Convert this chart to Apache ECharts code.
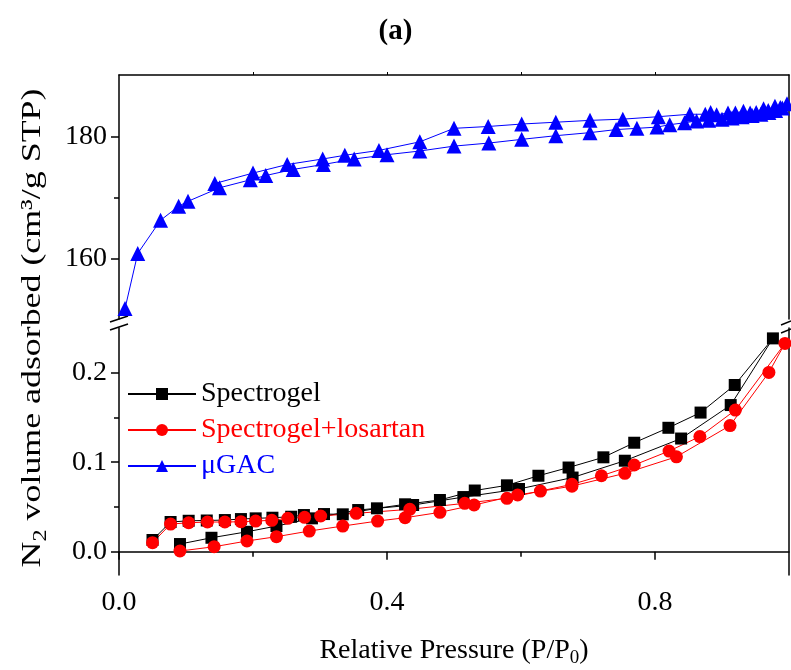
<!DOCTYPE html>
<html><head><meta charset="utf-8">
<script src="https://cdn.jsdelivr.net/npm/echarts@6/dist/echarts.min.js"></script>
<style>html,body{margin:0;padding:0;background:#fff}#c{width:791px;height:670px}</style>
</head><body><div id="c"></div>
<script>
const FONT = '"Liberation Serif","Times New Roman",serif';
const seriesNames = ['Spectrogel', 'Spectrogel+losartan', 'μGAC'];
const seriesColors = ['#000000', '#ff0000', '#0000ff'];

// Spectrogel: adsorption (ascending P) then desorption (descending P)
const spAdsP = [0.091, 0.138, 0.191, 0.235, 0.288, 0.357, 0.439, 0.514, 0.597, 0.677, 0.755, 0.839, 0.913, 0.976];
const spAdsV = [0.0086, 0.0156, 0.0223, 0.0287, 0.0373, 0.0466, 0.0522, 0.0611, 0.0701, 0.0829, 0.1017, 0.1265, 0.1639, 0.2384];
const spDesP = [0.919, 0.868, 0.820, 0.769, 0.723, 0.671, 0.626, 0.579, 0.531, 0.479, 0.427, 0.385, 0.334, 0.306, 0.276, 0.257, 0.229, 0.204, 0.182, 0.158, 0.131, 0.104, 0.077, 0.050];
const spDesV = [0.1863, 0.1555, 0.1385, 0.1218, 0.1055, 0.0941, 0.0849, 0.0742, 0.0684, 0.0578, 0.0530, 0.0485, 0.0418, 0.0421, 0.0410, 0.0391, 0.0380, 0.0373, 0.0365, 0.0354, 0.0349, 0.0346, 0.0332, 0.0131];

// Spectrogel+losartan
const slAdsP = [0.091, 0.142, 0.191, 0.235, 0.284, 0.334, 0.386, 0.427, 0.479, 0.530, 0.595, 0.676, 0.755, 0.832, 0.912, 0.970, 0.994];
const slAdsV = [0.0008, 0.0056, 0.0120, 0.0168, 0.0231, 0.0287, 0.0343, 0.0380, 0.0440, 0.0522, 0.0634, 0.0733, 0.0876, 0.1061, 0.1410, 0.2004, 0.2328];
const slDesP = [0.920, 0.867, 0.821, 0.769, 0.720, 0.676, 0.629, 0.579, 0.516, 0.434, 0.354, 0.301, 0.277, 0.252, 0.228, 0.204, 0.182, 0.158, 0.132, 0.104, 0.077, 0.050];
const slDesV = [0.1583, 0.1287, 0.1125, 0.0969, 0.0849, 0.0753, 0.0678, 0.0597, 0.0541, 0.0474, 0.0429, 0.0399, 0.0384, 0.0373, 0.0351, 0.0343, 0.0335, 0.0332, 0.0332, 0.0324, 0.0309, 0.0101];

// μGAC
const gacAdsP = [0.009, 0.028, 0.062, 0.089, 0.103, 0.150, 0.196, 0.219, 0.260, 0.305, 0.351, 0.400, 0.449, 0.500, 0.552, 0.601, 0.652, 0.703, 0.742, 0.773, 0.803, 0.822, 0.844, 0.862, 0.880, 0.900, 0.915, 0.930, 0.945, 0.958, 0.970, 0.980, 0.990, 0.997];
const gacAdsV = [151.9, 160.9, 166.3, 168.6, 169.4, 171.6, 172.9, 173.6, 174.6, 175.4, 176.3, 177.0, 177.6, 178.4, 178.9, 179.5, 180.1, 180.6, 181.1, 181.3, 181.5, 181.9, 182.2, 182.5, 182.6, 182.8, 183.0, 183.2, 183.4, 183.6, 183.9, 184.2, 184.6, 185.3];
const gacDesP = [0.987, 0.979, 0.969, 0.962, 0.951, 0.942, 0.932, 0.920, 0.909, 0.892, 0.883, 0.875, 0.852, 0.805, 0.752, 0.703, 0.652, 0.601, 0.551, 0.500, 0.449, 0.388, 0.337, 0.304, 0.251, 0.200, 0.143];
const gacDesV = [184.7, 184.9, 184.2, 184.5, 183.9, 183.8, 184.1, 183.8, 183.8, 183.5, 183.9, 183.6, 183.6, 183.2, 182.8, 182.6, 182.3, 182.0, 181.6, 181.3, 179.1, 177.7, 176.9, 176.3, 175.4, 174.0, 172.3];

// Axis ticks / labels
const xMajorTicks = [0, 0.4, 0.8];
const xMinorTicks = [0.2, 0.6];
const xTopTicks = [0.2, 0.4, 0.6, 0.8];
const topYMajor = [160, 180];
const topYMinor = [170];
const botYMajor = [0, 0.1, 0.2];
const botYMinor = [0.05, 0.15];
const topRange = [150.2, 190];
const botRange = [-0.026, 0.25];

function pairs(p, v) { return p.map((x, i) => [x, v[i]]); }
const spData = pairs(spAdsP, spAdsV).concat(pairs(spDesP, spDesV));
const slData = pairs(slAdsP, slAdsV).concat(pairs(slDesP, slDesV));
const gacData = pairs(gacAdsP, gacAdsV).concat(pairs(gacDesP, gacDesV));

const axisLine = { show: true, lineStyle: { color: '#000', width: 1.5 } };
const labelStyle = { fontSize: 28, color: '#000', fontFamily: FONT };

function yAxes(grid, range, major, minor, fmt) {
  return [
    { gridIndex: grid, type: 'value', position: 'left', min: range[0], max: range[1],
      axisLine: axisLine, splitLine: { show: false },
      axisTick: { show: true, inside: false, length: 8, customValues: major, lineStyle: { color: '#000', width: 1.5 } },
      axisLabel: Object.assign({ show: true, customValues: major, margin: 12, formatter: fmt }, labelStyle) },
    { gridIndex: grid, type: 'value', position: 'left', min: range[0], max: range[1],
      axisLine: { show: false }, splitLine: { show: false }, axisLabel: { show: false },
      axisTick: { show: true, inside: false, length: 5, customValues: minor, lineStyle: { color: '#000', width: 1.5 } } },
    { gridIndex: grid, type: 'value', position: 'right', min: range[0], max: range[1],
      axisLine: axisLine, splitLine: { show: false }, axisLabel: { show: false }, axisTick: { show: false } }
  ];
}

const option = {
  animation: false,
  backgroundColor: '#fff',
  title: { text: '(a)', left: 'center', top: 12,
    textStyle: { fontSize: 29, fontWeight: 'bold', color: '#000', fontFamily: FONT } },
  grid: [
    { left: 119, top: 75, width: 670, height: 244 },
    { left: 119, top: 328, width: 670, height: 247 }
  ],
  xAxis: [
    { gridIndex: 0, type: 'value', position: 'top', min: 0, max: 1,
      axisLine: axisLine, splitLine: { show: false }, axisLabel: { show: false },
      axisTick: { show: true, inside: false, length: 3, customValues: xTopTicks, lineStyle: { color: '#000', width: 1 } } },
    { gridIndex: 1, type: 'value', position: 'bottom', min: 0, max: 1,
      axisLine: axisLine, splitLine: { show: false },
      axisTick: { show: true, inside: false, length: 8, customValues: xMajorTicks, lineStyle: { color: '#000', width: 1.5 } },
      axisLabel: Object.assign({ customValues: xMajorTicks, margin: 14, formatter: v => v.toFixed(1) }, labelStyle),
      name: 'Relative Pressure (P/P{sub|0})', nameLocation: 'middle', nameGap: 58,
      nameTextStyle: { fontSize: 28, color: '#000', fontFamily: FONT,
        rich: { sub: { fontSize: 19, color: '#000', fontFamily: FONT, verticalAlign: 'bottom', padding: [16, 0, 0, 0] } } } },
    { gridIndex: 1, type: 'value', position: 'bottom', min: 0, max: 1,
      axisLine: { show: false }, splitLine: { show: false }, axisLabel: { show: false },
      axisTick: { show: true, inside: false, length: 5, customValues: xMinorTicks, lineStyle: { color: '#000', width: 1.5 } } }
  ],
  yAxis: yAxes(0, topRange, topYMajor, topYMinor, v => String(Math.round(v)))
    .concat(yAxes(1, botRange, botYMajor, botYMinor, v => v.toFixed(1))),
  legend: {
    orient: 'vertical', left: 122, top: 375, itemWidth: 68, itemHeight: 15, itemGap: 8,
    textStyle: { fontSize: 28, fontFamily: FONT },
    data: seriesNames.map((n, i) => ({ name: n, textStyle: { color: seriesColors[i] } }))
  },
  series: [
    { name: seriesNames[0], type: 'line', xAxisIndex: 1, yAxisIndex: 3, data: spData,
      symbol: 'rect', symbolSize: 12, itemStyle: { color: seriesColors[0] },
      lineStyle: { color: seriesColors[0], width: 1 } },
    { name: seriesNames[1], type: 'line', xAxisIndex: 1, yAxisIndex: 3, data: slData,
      symbol: 'circle', symbolSize: 13, itemStyle: { color: seriesColors[1] },
      lineStyle: { color: seriesColors[1], width: 1 } },
    { name: seriesNames[2], type: 'line', xAxisIndex: 0, yAxisIndex: 0, data: gacData,
      symbol: 'triangle', symbolSize: 15, itemStyle: { color: seriesColors[2] },
      lineStyle: { color: seriesColors[2], width: 1 } }
  ],
  graphic: [
    { type: 'text', x: 33, y: 328, rotation: Math.PI / 2, scaleX: 1.28,
      style: { text: 'N{sub|2} volume adsorbed (cm³/g STP)', fill: '#000',
        font: '28px ' + FONT, align: 'center', verticalAlign: 'middle',
        rich: { sub: { fontSize: 19, fontFamily: FONT, fill: '#000', verticalAlign: 'bottom', padding: [16, 0, 0, 0] } } } },
    { type: 'line', shape: { x1: 110, y1: 322, x2: 128, y2: 316 }, style: { stroke: '#000', lineWidth: 1.5 } },
    { type: 'line', shape: { x1: 110, y1: 330, x2: 128, y2: 324 }, style: { stroke: '#000', lineWidth: 1.5 } },
    { type: 'line', shape: { x1: 781, y1: 325, x2: 791, y2: 321 }, style: { stroke: '#000', lineWidth: 1.5 } },
    { type: 'line', shape: { x1: 781, y1: 333, x2: 791, y2: 329 }, style: { stroke: '#000', lineWidth: 1.5 } }
  ]
};
echarts.init(document.getElementById('c')).setOption(option);
</script></body></html>
